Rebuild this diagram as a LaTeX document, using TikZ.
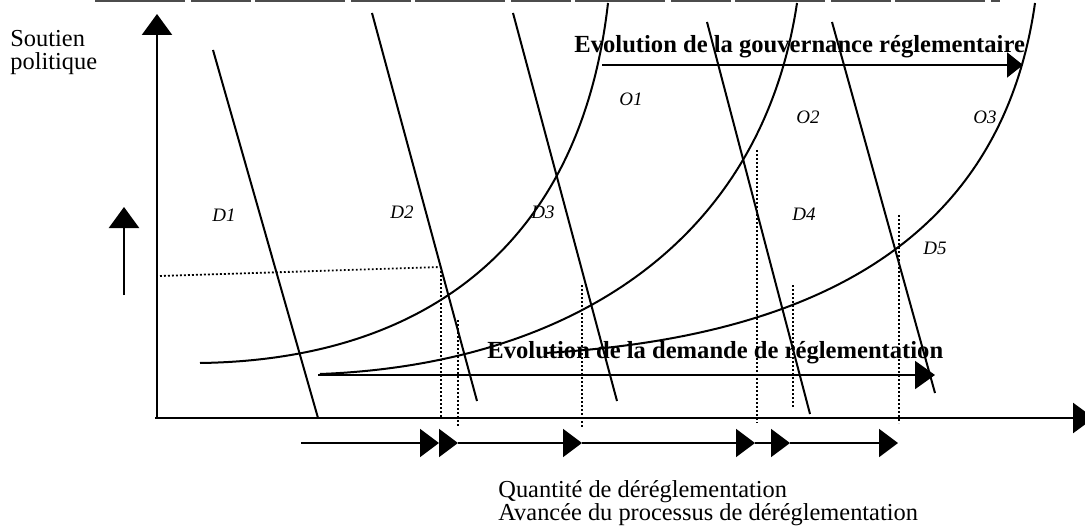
\documentclass[tikz,border=0pt]{standalone}
\usepackage{fontspec}
\setmainfont{Liberation Serif}
\usetikzlibrary{arrows.meta}

\tikzset{
  axe/.style={line width=1.2pt,-{Triangle[length=10.5pt,width=15pt]}},
  courbe/.style={line width=1pt},
  pointille/.style={line width=0.9pt,dash pattern=on 0.9pt off 1.1pt},
  fleche/.style={line width=1pt,-{Triangle[length=9.5pt,width=14pt]}},
  etiq/.style={font=\fontsize{9.5}{11}\selectfont\itshape,inner sep=0pt},
  titre/.style={font=\fontsize{12.3}{14}\selectfont\bfseries,inner sep=0pt},
  texte/.style={font=\fontsize{12.2}{14}\selectfont,inner sep=0pt},
}

\begin{document}
\begin{tikzpicture}[x=0.5pt,y=-0.5pt]
\useasboundingbox (0,0) rectangle (1085,529);
\def\ax{418}
\def\ay{157}

% bord du scan
\draw[gray!60!black,line width=1pt,dash pattern=on 45pt off 3pt on 30pt off 2pt] (95,1) -- (1000,1);

% axes
\draw[axe] (\ay,\ax) -- (\ay,14);
\draw[axe] (155,\ax) -- (1094,\ax);
\draw[axe] (124,295) -- (124,207);

% demandes D1 ... D5
\draw[courbe] (213,50) -- (318,418);
\draw[courbe] (372,13) -- (477,401);
\draw[courbe] (513,13) -- (617,401);
\draw[courbe] (707,22) -- (810,414);
\draw[courbe] (832,22) -- (935,393);

% offres O1 ... O3
\draw[courbe] (200,363) .. controls (420,360) and (580,250) .. (608,3);
\draw[courbe] (320,374) .. controls (560,365) and (760,250) .. (797,3);
\draw[courbe] (545,353) .. controls (800,338) and (1000,250) .. (1035,3);

% pointilles
\draw[pointille] (160,276) -- (441,267);
\draw[pointille] (441,267) -- (441,\ax);
\draw[pointille] (458,320) -- (458,427);
\draw[pointille] (582,285) -- (582,427);
\draw[pointille] (757,150) -- (757,423);
\draw[pointille] (793,285) -- (793,408);
\draw[pointille] (899,215) -- (899,423);

% evolutions
\draw[line width=1pt,-{Triangle[length=8pt,width=12.5pt]}] (602,65) -- (1023,65);
\draw[line width=1pt,-{Triangle[length=10pt,width=14pt]}] (318,375) -- (935,375);

% avancee du processus
\coordinate (p0) at (301,443);
\foreach \x/\n [remember=\n as \m (initially 0)] in {439/1,458/2,582/3,755/4,790/5,898/6}
  {\coordinate (p\n) at (\x,443);
   \draw[fleche] (p\m) -- (p\n);}

% textes
\node[texte,anchor=base west] (soutien) at (10,47) {Soutien};
\node[texte,anchor=base west] (politique) at (10,70) {politique};
\node[titre,anchor=base west] (gouv) at (574,53) {Evolution de la gouvernance réglementaire};
\node[titre,anchor=base west] (dem) at (487,358) {Evolution de la demande de réglementation};
\node[texte,anchor=base west] (quant) at (498,497) {Quantité de déréglementation};
\node[texte,anchor=base west] (avance) at (498,520) {Avancée du processus de déréglementation};

\node[etiq] (lD1) at (224,215) {D1};
\node[etiq] (lD2) at (402,212) {D2};
\node[etiq] (lD3) at (543,212) {D3};
\node[etiq] (lD4) at (804,214) {D4};
\node[etiq] (lD5) at (935,248) {D5};
\node[etiq] (lO1) at (631,99) {O1};
\node[etiq] (lO2) at (808,117) {O2};
\node[etiq] (lO3) at (985,117) {O3};
\end{tikzpicture}
\end{document}
